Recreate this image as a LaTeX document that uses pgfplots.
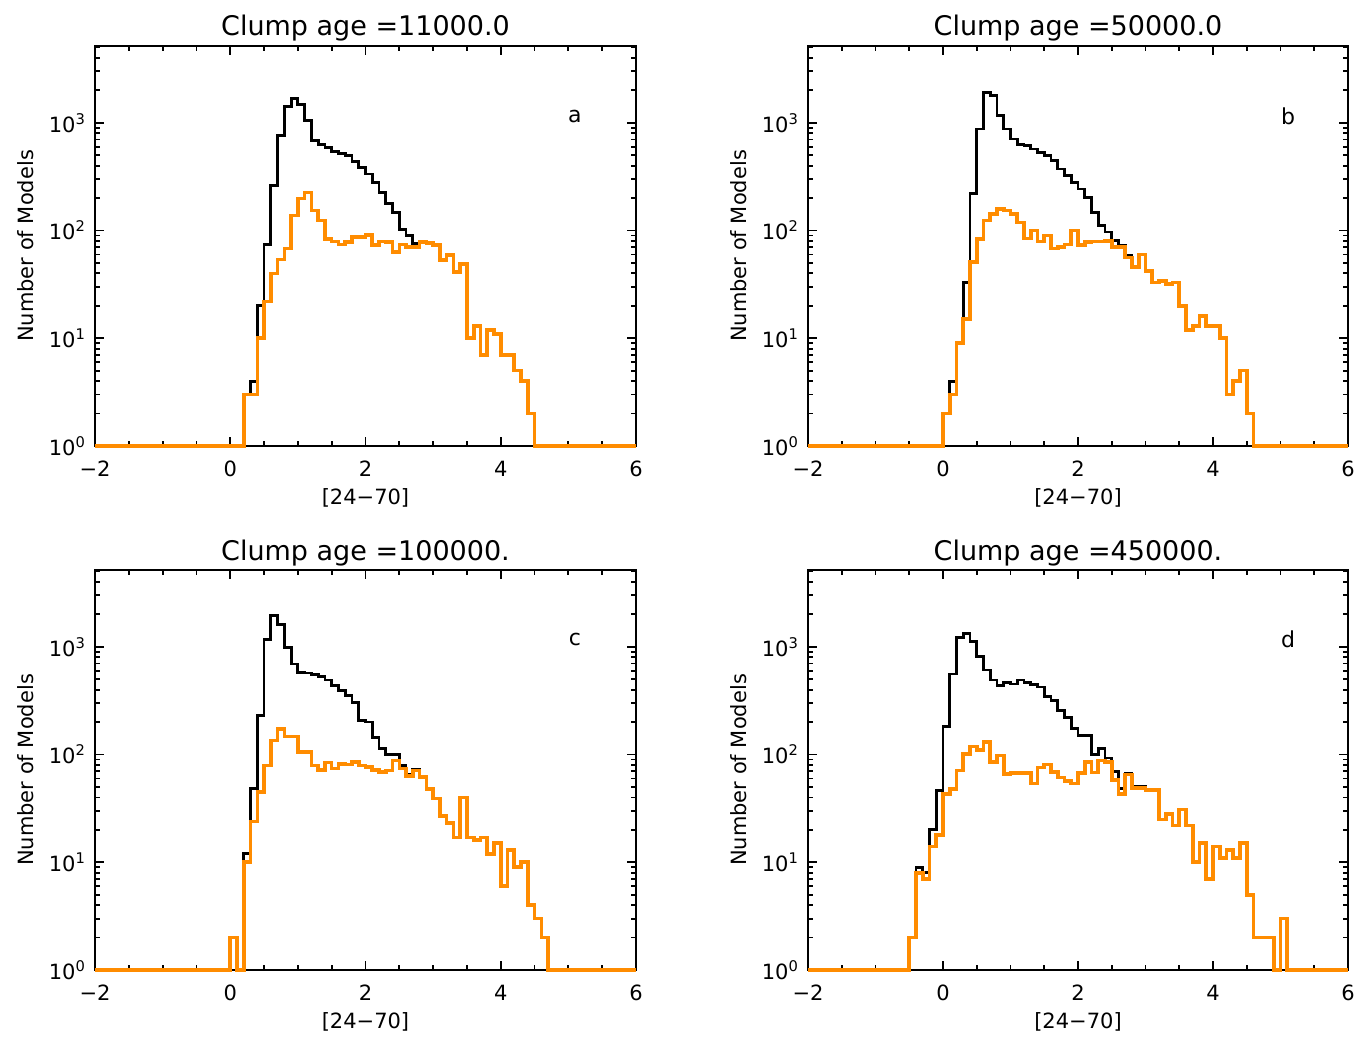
\documentclass[border=0pt]{standalone}
\usepackage{fontspec}
\setmainfont{DejaVu Sans}
\usepackage{pgfplots}
\pgfplotsset{compat=1.18}
\definecolor{orng}{RGB}{255,140,0}
\pgfplotsset{
  panel/.style={
    scale only axis, height=200pt,
    xmin=-2, xmax=6, ymin=1, ymax=5160,
    clip=false,
    xtick={-2,0,2,4,6}, xticklabels={−2,0,2,4,6},
    minor x tick num=3,
    ytick={1,10,100,1000},
    yticklabels={10\textsuperscript{0},10\textsuperscript{1},10\textsuperscript{2},10\textsuperscript{3}},
    minor ytick={2,3,4,5,6,7,8,9,20,30,40,50,60,70,80,90,200,300,400,500,600,700,800,900,2000,3000,4000,5000},
    major tick length=4.5pt, minor tick length=2.5pt,
    axis line style={line width=1pt},
    every tick/.style={black, line width=0.9pt},
    tick label style={font=\fontsize{10.5}{12}\selectfont},
    xticklabel style={yshift=-4pt},
    yticklabel style={xshift=-1pt},
    xlabel={[24−70]},
    xlabel style={at={(axis description cs:0.5,0)}, anchor=center, yshift=-26pt, font=\fontsize{10.5}{12}\selectfont},
    ylabel={Number of Models},
    ylabel style={at={(axis description cs:-0.129,0.5)}, anchor=center, font=\fontsize{10.5}{12}\selectfont},
    every axis title shift=0pt,
    title style={at={(axis description cs:0.5,1)}, anchor=base, yshift=5pt, font=\fontsize{13.5}{16}\selectfont},
  },
  blk/.style={black, line width=1.4pt, const plot mark left, no marks},
  org/.style={orng, line width=1.8pt, const plot mark left, no marks},
}
\begin{document}
\begin{tikzpicture}
\path[use as bounding box] (0,0) rectangle (684pt,524.5pt);
% ---------------- panel a
\begin{semilogyaxis}[panel, at={(47.5pt,301.5pt)}, anchor=south west, width=270.5pt, title={Clump age =11000.0}]
\addplot[blk] coordinates {(-2,1) (0.2,3) (0.3,4) (0.4,20) (0.5,74) (0.6,261) (0.7,758) (0.8,1406) (0.9,1694) (1.0,1490) (1.1,1044) (1.2,681) (1.3,634) (1.4,591) (1.5,539) (1.6,520) (1.7,494) (1.8,435) (1.9,386) (2.0,335) (2.1,280) (2.2,227) (2.3,177) (2.4,148) (2.5,103) (2.6,90) (2.7,76) (2.8,78) (2.9,77) (3.0,73) (3.1,53) (3.2,59) (3.3,41) (3.4,49) (3.5,10) (3.6,13) (3.7,7) (3.8,12) (3.9,11) (4.0,7) (4.1,7) (4.2,5) (4.3,4) (4.4,2) (4.5,1) (6,1)};
\addplot[org] coordinates {(-2,1) (0.2,3) (0.3,3) (0.4,10) (0.5,22) (0.6,40) (0.7,54) (0.8,68) (0.9,138) (1.0,199) (1.1,226) (1.2,153) (1.3,124) (1.4,83) (1.5,79) (1.6,74) (1.7,78) (1.8,87) (1.9,87) (2.0,91) (2.1,73) (2.2,79) (2.3,78) (2.4,63) (2.5,74) (2.6,70) (2.7,70) (2.8,78) (2.9,77) (3.0,73) (3.1,53) (3.2,59) (3.3,41) (3.4,49) (3.5,10) (3.6,13) (3.7,7) (3.8,12) (3.9,11) (4.0,7) (4.1,7) (4.2,5) (4.3,4) (4.4,2) (4.5,1) (6,1)};
\node[font=\fontsize{11}{13}\selectfont] at (axis description cs:0.887,0.825) {a};
\end{semilogyaxis}
% ---------------- panel b
\begin{semilogyaxis}[panel, at={(404pt,301.5pt)}, anchor=south west, width=270pt, title={Clump age =50000.0}]
\addplot[blk] coordinates {(-2,1) (0.0,2) (0.1,4) (0.2,9) (0.3,33) (0.4,219) (0.5,874) (0.6,1910) (0.7,1778) (0.8,1161) (0.9,874) (1.0,707) (1.1,634) (1.2,612) (1.3,570) (1.4,531) (1.5,494) (1.6,445) (1.7,372) (1.8,323) (1.9,280) (2.0,243) (2.1,204) (2.2,148) (2.3,112) (2.4,97) (2.5,81) (2.6,73) (2.7,59) (2.8,46) (2.9,60) (3.0,42) (3.1,33) (3.2,34) (3.3,32) (3.4,33) (3.5,20) (3.6,12) (3.7,13) (3.8,16) (3.9,13) (4.0,13) (4.1,10) (4.2,3) (4.3,4) (4.4,5) (4.5,2) (4.6,1) (6,1)};
\addplot[org] coordinates {(-2,1) (0.0,2) (0.1,3) (0.2,9) (0.3,15) (0.4,51) (0.5,83) (0.6,124) (0.7,143) (0.8,159) (0.9,153) (1.0,143) (1.1,119) (1.2,84) (1.3,100) (1.4,79) (1.5,90) (1.6,68) (1.7,70) (1.8,74) (1.9,100) (2.0,73) (2.1,78) (2.2,79) (2.3,79) (2.4,80) (2.5,70) (2.6,70) (2.7,56) (2.8,46) (2.9,60) (3.0,42) (3.1,33) (3.2,34) (3.3,32) (3.4,33) (3.5,20) (3.6,12) (3.7,13) (3.8,16) (3.9,13) (4.0,13) (4.1,10) (4.2,3) (4.3,4) (4.4,5) (4.5,2) (4.6,1) (6,1)};
\node[font=\fontsize{11}{13}\selectfont] at (axis description cs:0.889,0.825) {b};
\end{semilogyaxis}
% ---------------- panel c
\begin{semilogyaxis}[panel, at={(47.5pt,39.5pt)}, anchor=south west, width=270.5pt, title={Clump age =100000.}]
\addplot[blk] coordinates {(-2,1) (0.0,2) (0.1,1) (0.2,12) (0.3,48) (0.4,230) (0.5,1178) (0.6,1937) (0.7,1599) (0.8,986) (0.9,692) (1.0,578) (1.1,570) (1.2,550) (1.3,528) (1.4,491) (1.5,435) (1.6,391) (1.7,352) (1.8,305) (1.9,206) (2.0,200) (2.1,145) (2.2,113) (2.3,100) (2.4,100) (2.5,79) (2.6,65) (2.7,73) (2.8,62) (2.9,48) (3.0,39) (3.1,27) (3.2,23) (3.3,17) (3.4,40) (3.5,17) (3.6,16) (3.7,17) (3.8,12) (3.9,15) (4.0,6) (4.1,13) (4.2,9) (4.3,10) (4.4,4) (4.5,3) (4.6,2) (4.7,1) (6,1)};
\addplot[org] coordinates {(-2,1) (0.0,2) (0.1,1) (0.2,10) (0.3,24) (0.4,45) (0.5,79) (0.6,135) (0.7,173) (0.8,147) (0.9,147) (1.0,105) (1.1,105) (1.2,79) (1.3,72) (1.4,84) (1.5,74) (1.6,82) (1.7,81) (1.8,85) (1.9,79) (2.0,77) (2.1,72) (2.2,69) (2.3,71) (2.4,88) (2.5,74) (2.6,63) (2.7,71) (2.8,62) (2.9,48) (3.0,39) (3.1,27) (3.2,23) (3.3,17) (3.4,40) (3.5,17) (3.6,16) (3.7,17) (3.8,12) (3.9,15) (4.0,6) (4.1,13) (4.2,9) (4.3,10) (4.4,4) (4.5,3) (4.6,2) (4.7,1) (6,1)};
\node[font=\fontsize{11}{13}\selectfont] at (axis description cs:0.887,0.827) {c};
\end{semilogyaxis}
% ---------------- panel d
\begin{semilogyaxis}[panel, at={(404pt,39.5pt)}, anchor=south west, width=270pt, title={Clump age =450000.}]
\addplot[blk] coordinates {(-2,1) (-0.5,2) (-0.4,9) (-0.3,8) (-0.2,20) (-0.1,46) (0.0,182) (0.1,558) (0.2,1219) (0.3,1328) (0.4,1120) (0.5,808) (0.6,608) (0.7,491) (0.8,435) (0.9,467) (1.0,451) (1.1,491) (1.2,467) (1.3,445) (1.4,424) (1.5,344) (1.6,316) (1.7,255) (1.8,222) (1.9,173) (2.0,150) (2.1,150) (2.2,100) (2.3,114) (2.4,93) (2.5,69) (2.6,48) (2.7,67) (2.8,51) (2.9,51) (3.0,47) (3.1,47) (3.2,25) (3.3,28) (3.4,22) (3.5,31) (3.6,22) (3.7,10) (3.8,15) (3.9,7) (4.0,14) (4.1,11) (4.2,13) (4.3,11) (4.4,15) (4.5,5) (4.6,2) (4.7,2) (4.8,2) (4.9,1) (5.0,3) (5.1,1) (6,1)};
\addplot[org] coordinates {(-2,1) (-0.5,2) (-0.4,8) (-0.3,7) (-0.2,14) (-0.1,18) (0.0,43) (0.1,48) (0.2,71) (0.3,101) (0.4,119) (0.5,110) (0.6,130) (0.7,85) (0.8,98) (0.9,66) (1.0,67) (1.1,67) (1.2,67) (1.3,54) (1.4,76) (1.5,81) (1.6,69) (1.7,61) (1.8,57) (1.9,54) (2.0,67) (2.1,85) (2.2,68) (2.3,88) (2.4,85) (2.5,58) (2.6,43) (2.7,65) (2.8,49) (2.9,49) (3.0,47) (3.1,47) (3.2,25) (3.3,28) (3.4,22) (3.5,31) (3.6,22) (3.7,10) (3.8,15) (3.9,7) (4.0,14) (4.1,11) (4.2,13) (4.3,11) (4.4,15) (4.5,5) (4.6,2) (4.7,2) (4.8,2) (4.9,1) (5.0,3) (5.1,1) (6,1)};
\node[font=\fontsize{11}{13}\selectfont] at (axis description cs:0.889,0.827) {d};
\end{semilogyaxis}
\end{tikzpicture}
\end{document}
